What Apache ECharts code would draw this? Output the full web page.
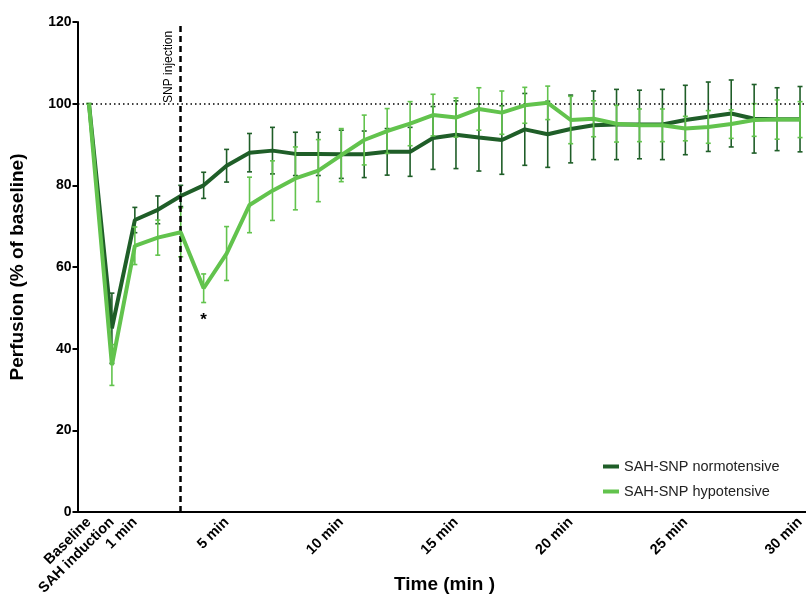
<!DOCTYPE html>
<html>
<head>
<meta charset="utf-8">
<script src="https://cdn.jsdelivr.net/npm/echarts@6/dist/echarts.min.js"></script>
<style>
html,body{margin:0;padding:0;background:#fff;}
#main{width:806px;height:599px;}
</style>
</head>
<body>
<div id="main"></div>
<script>
const categories = ['Baseline','SAH induction','1 min','2 min','3 min','4 min','5 min','6 min','7 min','8 min','9 min','10 min','11 min','12 min','13 min','14 min','15 min','16 min','17 min','18 min','19 min','20 min','21 min','22 min','23 min','24 min','25 min','26 min','27 min','28 min','29 min','30 min'];
const shownLabels = ['Baseline','SAH induction','1 min','5 min','10 min','15 min','20 min','25 min','30 min'];
const normotensive = [100,45,71.5,74,77.4,80,84.8,88,88.5,87.7,87.7,87.6,87.6,88.2,88.2,91.6,92.4,91.7,91.1,93.7,92.5,93.8,94.7,94.9,94.9,94.9,96,96.8,97.6,96.3,96.2,96.2];
const normotensiveErr = [0,8.6,3.1,3.4,2.6,3.2,4,4.7,5.7,5.3,5.3,5.9,5.7,5.7,6,7.7,8.3,8.2,8.4,8.8,8.1,8.3,8.4,8.6,8.4,8.6,8.5,8.5,8.2,8.4,7.7,8];
const hypotensive = [100,36,65.2,67.2,68.5,54.8,63.3,75.2,78.7,81.7,83.6,87.4,91.1,93.3,95.1,97.2,96.6,98.7,97.8,99.6,100.2,96,96.3,95.1,94.7,94.7,93.9,94.3,95,96,96.1,96.1];
const hypotensiveErr = [0,5,4.6,4.3,6,3.5,6.6,6.8,7.3,7.7,7.6,6.5,6.1,5.5,5.4,5.1,4.8,5.2,5.3,4.4,4.1,5.8,4.4,4.5,4,4,3,4,3.5,4,4.8,4.4];
const yTicks = [0,20,40,60,80,100,120];
const seriesNames = ['SAH-SNP normotensive','SAH-SNP hypotensive'];
const injectionAt = '3 min';
const starAt = '4 min';

const darkColor = '#1f5e28';
const lightColor = '#62c34d';

function errData(vals, errs){
  return vals.map((v,i)=>[i, v-errs[i], v+errs[i]]);
}
function errRender(color){
  return function(params, api){
    const x = api.value(0);
    const lo = api.coord([x, api.value(1)]);
    const hi = api.coord([x, api.value(2)]);
    const w = 2.5;
    const style = {stroke: color, lineWidth: 1.6, fill: null};
    return {type:'group', children:[
      {type:'line', shape:{x1:lo[0],y1:lo[1],x2:hi[0],y2:hi[1]}, style:style},
      {type:'line', shape:{x1:lo[0]-w,y1:lo[1],x2:lo[0]+w,y2:lo[1]}, style:style},
      {type:'line', shape:{x1:hi[0]-w,y1:hi[1],x2:hi[0]+w,y2:hi[1]}, style:style}
    ]};
  };
}

const chart = echarts.init(document.getElementById('main'), null, {renderer:'canvas'});
const font = 'Liberation Sans, Arial, Helvetica, sans-serif';
chart.setOption({
  animation:false,
  textStyle:{fontFamily:font},
  grid:{left:77.5, right:-5.5, top:22, bottom:87, containLabel:false, outerBoundsMode:'none'},
  legend:{
    data:seriesNames, orient:'vertical', left:598, top:454, itemGap:10,
    icon:'rect', itemWidth:16, itemHeight:4,
    textStyle:{fontFamily:font, fontSize:14.5, color:'#222'}
  },
  xAxis:{
    type:'category', data:categories, boundaryGap:true,
    name:'Time (min )', nameLocation:'middle', nameGap:63, nameMoveOverlap:false,
    nameTextStyle:{fontFamily:font, fontSize:19, fontWeight:'bold', color:'#000'},
    axisLine:{lineStyle:{color:'#000', width:2}},
    axisTick:{alignWithLabel:true, interval:0, length:5, lineStyle:{color:'#000', width:2}},
    axisLabel:{
      rotate:45, interval:(i, v)=>shownLabels.includes(v), margin:8,
      fontFamily:font, fontSize:14.5, fontWeight:'bold', color:'#000'
    },
    splitLine:{show:false}
  },
  yAxis:{
    type:'value', min:yTicks[0], max:yTicks[yTicks.length-1], interval:20,
    name:'Perfusion (% of baseline)', nameLocation:'middle', nameGap:50, nameMoveOverlap:false,
    nameTextStyle:{fontFamily:font, fontSize:19, fontWeight:'bold', color:'#000'},
    axisLine:{show:true, lineStyle:{color:'#000', width:2}},
    axisTick:{show:true, length:5, lineStyle:{color:'#000', width:2}},
    axisLabel:{fontFamily:font, fontSize:14, fontWeight:'bold', color:'#000', margin:6},
    splitLine:{show:false}
  },
  series:[
    {
      type:'custom', name:seriesNames[0]+' err', renderItem:errRender(darkColor),
      data:errData(normotensive, normotensiveErr), z:2, silent:true
    },
    {
      type:'line', name:seriesNames[0], data:normotensive, showSymbol:false,
      lineStyle:{color:darkColor, width:4}, itemStyle:{color:darkColor}, z:3,
      markLine:{
        silent:true, symbol:['none','none'],
        data:[
          [{coord:[injectionAt,0], lineStyle:{type:[6,4], width:2.5, color:'#000'},
            label:{show:true, position:'insideEndTop', formatter:'SNP injection', fontFamily:font, fontSize:12, color:'#000', distance:6}},
           {coord:[injectionAt,119.3]}],
          [{coord:['Baseline',100], x:78, lineStyle:{type:[1.5,3], width:1.5, color:'#000'}, label:{show:false}},
           {coord:['30 min',100], x:806}]
        ]
      }
    },
    {
      type:'custom', name:seriesNames[1]+' err', renderItem:errRender(lightColor),
      data:errData(hypotensive, hypotensiveErr), z:4, silent:true
    },
    {
      type:'line', name:seriesNames[1], data:hypotensive, showSymbol:false,
      lineStyle:{color:lightColor, width:4}, itemStyle:{color:lightColor}, z:5,
      markPoint:{
        symbol:'circle', symbolSize:0,
        data:[{coord:[starAt, hypotensive[categories.indexOf(starAt)]]}],
        label:{show:true, formatter:'*', offset:[0,32], fontSize:17, fontWeight:'bold', color:'#000'}
      }
    }
  ]
});
</script>
</body>
</html>
